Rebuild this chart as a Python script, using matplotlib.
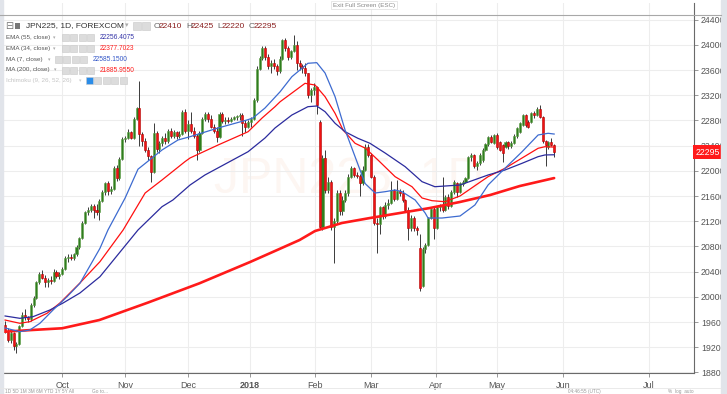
import matplotlib
matplotlib.use('Agg')
import matplotlib.pyplot as plt
from matplotlib.patches import Rectangle
import numpy as np

plt.rcParams['font.family'] = ['Liberation Sans', 'DejaVu Sans']

# daily bars, JPN225 CFD, 4 Sep 2017 .. 30 May 2018 (one value per trading day)
opens = [19560, 19440, 19320, 19430, 19220, 19250, 19540, 19720, 19680, 19650,
         19870, 19990, 20230, 20360, 20300, 20240, 20270, 20260, 20400, 20330,
         20370, 20450, 20620, 20640, 20620, 20680, 20790, 20930, 21180, 21340,
         21380, 21450, 21380, 21340, 21530, 21660, 21800, 21680, 21720, 22040,
         21880, 22190, 22510, 22530, 22620, 22530, 22830, 23000, 22580, 22470,
         22330, 22230, 21990, 22600, 22350, 22440, 22520, 22470, 22630, 22560,
         22620, 22560, 22590, 22930, 22640, 22750, 22640, 22560, 22330, 22600,
         22820, 22900, 22830, 22700, 22640, 22540, 22900, 22790, 22800, 22790,
         22830, 22850, 22870, 22880, 22760, 22700, 22780, 22820, 23120, 23620,
         23790, 23950, 23800, 23660, 23720, 23660, 23580, 23780, 24070, 23950,
         23800, 23900, 24000, 23710, 23660, 23640, 23550, 23200, 23290, 23330,
         22780, 21110, 22200, 21700, 21820, 21110, 21200, 21650, 21360, 21540,
         21650, 21900, 22040, 21940, 21920, 21800, 22020, 22380, 22260, 21910,
         21170, 21150, 21420, 21280, 21460, 21490, 21700, 21560, 21680, 21650,
         21540, 21380, 21090, 21260, 21100, 20780, 20170, 20760, 20820, 21250,
         21390, 21100, 21420, 21460, 21380, 21590, 21440, 21660, 21800, 21670,
         21790, 21830, 21880, 22220, 22250, 22070, 22130, 22170, 22330, 22420,
         22540, 22440, 22570, 22460, 22410, 22380, 22460, 22390, 22450, 22560,
         22620, 22730, 22880, 22780, 22780, 22920, 22880, 22990, 22860, 22470,
         22380, 22460, 22410]
highs = [19620, 19500, 19460, 19450, 19280, 19560, 19760, 19800, 19700, 19900,
         20010, 20250, 20400, 20420, 20340, 20300, 20330, 20440, 20430, 20390,
         20480, 20650, 20680, 20680, 20700, 20820, 20950, 21200, 21360, 21420,
         21470, 21480, 21480, 21560, 21700, 21830, 21840, 21760, 22080, 22100,
         22220, 22540, 22560, 22660, 22640, 22860, 23020, 23420, 22620, 22520,
         22380, 22260, 22760, 22640, 22480, 22560, 22600, 22660, 22680, 22650,
         22640, 22640, 22960, 22980, 22800, 22940, 22700, 22580, 22640, 22860,
         22930, 22940, 22880, 22740, 22700, 22940, 22930, 22850, 22850, 22860,
         22870, 22880, 22920, 22920, 22800, 22800, 22860, 23160, 23660, 23820,
         23980, 23990, 23850, 23760, 23780, 23700, 23820, 24100, 24110, 23980,
         23920, 24160, 24060, 23760, 23700, 23720, 23560, 23320, 23400, 23340,
         22800, 22260, 22330, 21900, 21850, 21250, 21700, 21700, 21600, 21700,
         21950, 22080, 22060, 21980, 21950, 22080, 22420, 22420, 22280, 21930,
         21260, 21450, 21440, 21500, 21560, 21840, 21720, 21850, 21720, 21690,
         21560, 21420, 21300, 21290, 21120, 21000, 20790, 20860, 21270, 21420,
         21420, 21450, 21480, 21900, 21620, 21640, 21700, 21860, 21830, 21830,
         21860, 21900, 22240, 22290, 22270, 22160, 22280, 22360, 22450, 22560,
         22570, 22590, 22600, 22480, 22420, 22480, 22480, 22470, 22580, 22700,
         22780, 22900, 22900, 22810, 22940, 22950, 23010, 23040, 22870, 22490,
         22480, 22520, 22425]
lows = [19420, 19280, 19270, 19150, 19110, 19240, 19520, 19640, 19600, 19620,
        19840, 19970, 20200, 20280, 20150, 20150, 20200, 20240, 20300, 20290,
        20350, 20430, 20560, 20580, 20590, 20650, 20760, 20920, 21150, 21300,
        21350, 21250, 21300, 21220, 21500, 21620, 21620, 21640, 21700, 21840,
        21860, 22170, 22460, 22500, 22500, 22510, 22800, 22400, 22400, 22300,
        22180, 21830, 21960, 22300, 22280, 22400, 22420, 22440, 22520, 22530,
        22500, 22520, 22570, 22600, 22500, 22600, 22520, 22170, 22300, 22580,
        22790, 22780, 22680, 22600, 22460, 22520, 22760, 22740, 22760, 22770,
        22800, 22810, 22800, 22560, 22620, 22680, 22700, 22800, 23100, 23600,
        23760, 23760, 23620, 23560, 23620, 23520, 23560, 23760, 23900, 23760,
        23780, 23880, 23600, 23600, 23560, 23500, 23160, 23100, 23200, 22900,
        21080, 21060, 21650, 21650, 21060, 20540, 21150, 21300, 21300, 21500,
        21600, 21880, 21900, 21880, 21600, 21780, 22000, 22220, 21880, 21140,
        20700, 21000, 21230, 21250, 21400, 21470, 21520, 21540, 21600, 21500,
        21340, 20900, 21050, 21050, 20980, 20100, 20150, 20700, 20800, 21230,
        20920, 21080, 21360, 21350, 21360, 21400, 21420, 21640, 21590, 21650,
        21760, 21800, 21870, 22160, 22040, 22020, 22100, 22140, 22310, 22400,
        22440, 22420, 22350, 22310, 22140, 22360, 22350, 22370, 22430, 22530,
        22600, 22710, 22700, 22680, 22760, 22840, 22870, 22840, 22450, 22080,
        22340, 22390, 22220]
closes = [19440, 19320, 19430, 19220, 19250, 19540, 19720, 19680, 19650, 19870,
          19990, 20230, 20360, 20300, 20240, 20270, 20260, 20400, 20330, 20370,
          20450, 20620, 20640, 20620, 20680, 20790, 20930, 21180, 21340, 21380,
          21450, 21380, 21340, 21530, 21660, 21800, 21680, 21720, 22040, 21880,
          22190, 22510, 22530, 22620, 22530, 22830, 23000, 22580, 22470, 22330,
          22230, 21990, 22600, 22350, 22440, 22520, 22470, 22630, 22560, 22620,
          22560, 22590, 22930, 22640, 22750, 22640, 22560, 22330, 22600, 22820,
          22900, 22830, 22700, 22640, 22540, 22900, 22790, 22800, 22790, 22830,
          22850, 22870, 22880, 22760, 22700, 22780, 22820, 23120, 23620, 23790,
          23950, 23800, 23660, 23720, 23660, 23580, 23780, 24070, 23950, 23800,
          23900, 24000, 23710, 23660, 23640, 23550, 23200, 23290, 23330, 23040,
          21110, 22200, 21700, 21820, 21110, 21200, 21650, 21360, 21540, 21650,
          21900, 22040, 21940, 21920, 21800, 22020, 22380, 22260, 21910, 21170,
          21150, 21420, 21280, 21460, 21490, 21700, 21560, 21680, 21650, 21540,
          21380, 21090, 21260, 21100, 21060, 20140, 20760, 20820, 21250, 21390,
          21100, 21420, 21460, 21380, 21590, 21440, 21660, 21830, 21670, 21800,
          21830, 21880, 22220, 22250, 22070, 22130, 22250, 22330, 22430, 22540,
          22460, 22570, 22380, 22330, 22280, 22460, 22390, 22450, 22560, 22680,
          22760, 22880, 22730, 22700, 22920, 22880, 22990, 22860, 22470, 22410,
          22460, 22410, 22295]

# indicator lines: bar number -> value
ma7_bar = [0, 5.2, 8.7, 12.2, 16.8, 21.7, 26.2, 33.2, 36, 42, 46.5, 54.9, 60.5,
           64.7, 74.5, 84.6, 86.7, 90.9, 96.2, 100.3, 105.9, 109, 111.9, 115.4,
           118.9, 122.4, 125.9, 129.4, 132.9, 136.4, 138.8, 143.4, 146.9, 147.9,
           152.8, 159.1, 164.3, 168.9, 174.8, 180.8, 186.4, 189.9, 192]
ma7_val = [19506, 19448, 19475, 19581, 19792, 20003, 20216, 20771, 21062, 21570,
           22027, 22332, 22491, 22543, 22681, 22808, 22840, 22998, 23257, 23495,
           23708, 23718, 23554, 23178, 22649, 22225, 21800, 21649, 21670, 21697,
           21670, 21538, 21332, 21252, 21252, 21284, 21459, 21776, 22041, 22305,
           22570, 22597, 22585]
ema34_bar = [0, 5.2, 8.7, 14.7, 19.2, 26.2, 33.2, 41.3, 49, 54.9, 62.9, 64.7,
             74.5, 85, 89.9, 94.4, 96.2, 104.9, 108.4, 111.9, 115.4, 118.2, 122.4,
             126, 130.4, 136.4, 142.3, 145.8, 149.3, 153.8, 159.1, 168.9, 174.8,
             180.8, 186.4, 188.8, 192]
ema34_val = [19633, 19581, 19607, 19740, 19903, 20221, 20559, 21062, 21649, 21856,
             22146, 22205, 22411, 22622, 22840, 23019, 23098, 23390, 23363, 23178,
             22914, 22649, 22438, 22360, 22173, 21908, 21749, 21570, 21527, 21511,
             21602, 21908, 22041, 22205, 22359, 22384, 22378]
ema55_bar = [0, 5.2, 9.8, 15.7, 20.3, 26.2, 33.2, 46.5, 54.9, 58.7, 64.7, 69.9,
             85, 90.9, 94.4, 100.3, 105.9, 109, 111.9, 115.4, 118.9, 123.4, 127.6,
             132.9, 139.9, 145.8, 150.3, 159.1, 168.9, 174.8, 180.8, 186.4, 188.8,
             192]
ema55_val = [19697, 19660, 19686, 19792, 19903, 20062, 20321, 21062, 21432, 21538,
             21776, 21935, 22305, 22522, 22681, 22887, 23019, 23030, 22940, 22756,
             22622, 22517, 22438, 22284, 22067, 21829, 21749, 21776, 21935, 22014,
             22121, 22226, 22253, 22256]
ma200_bar = [0, 10, 20, 33, 50, 68, 85.7, 94.4, 103, 108.4, 117.8, 127.6, 138,
             148.6, 159, 169.6, 180, 192]
ma200_val = [19448, 19476, 19502, 19633, 19910, 20216, 20554, 20729, 20903, 21046,
             21173, 21252, 21331, 21411, 21506, 21617, 21760, 21886]

month_labels = ['Oct', 'Nov', 'Dec', '2018', 'Feb', 'Mar', 'Apr', 'May', 'Jun', 'Jul']
month_bar = [20, 42, 64, 85.5, 108.4, 128, 150.7, 172, 195, 225]
price_ticks = list(range(18800, 24401, 400))
last_price = 22295

W, H = 727, 394
fig = plt.figure(figsize=(W / 100, H / 100), dpi=100)


def fx(x):
    return x / W


def fy(y):
    return 1 - y / H


# frame around the chart
fig.patches.append(Rectangle((0, 0), fx(3), 1, transform=fig.transFigure, color='#e1e4ea', zorder=0))
fig.patches.append(Rectangle((fx(721), 0), 1, 1, transform=fig.transFigure, color='#e1e4ea', zorder=0))

ax = fig.add_axes([fx(3), fy(373), fx(694) - fx(3), fy(3) - fy(373)])

o = np.array(opens)
h = np.array(highs)
lo = np.array(lows)
c = np.array(closes)
idx = np.arange(len(o))
up = c >= o
body_lo = np.minimum(o, c)
body_h = np.maximum(np.abs(c - o), 10)

ax.vlines(idx, lo, h, color='#3a3a3a', lw=0.7, zorder=2)
ax.bar(idx[up], body_h[up], bottom=body_lo[up], width=0.72, color='#2f7d1f',
       edgecolor='#5e9e46', linewidth=0.4, zorder=3)
ax.bar(idx[~up], body_h[~up], bottom=body_lo[~up], width=0.72, color='#f01212',
       edgecolor='#b00000', linewidth=0.4, zorder=3)

ax.plot(ma200_bar, ma200_val, color='#ff1a1a', lw=1.9, solid_capstyle='round', zorder=4)
ax.plot(ema34_bar, ema34_val, color='#ff1010', lw=0.9, zorder=4)
ax.plot(ema55_bar, ema55_val, color='#2b2b9e', lw=0.9, zorder=4)
ax.plot(ma7_bar, ma7_val, color='#3d6bd0', lw=0.9, zorder=4)

ax.set_xlim(-0.7, 240.9)
ax.set_ylim(18792, 24665)
ax.set_yticks(price_ticks)
ax.yaxis.tick_right()
ax.set_xticks(month_bar)
ax.set_xticklabels(month_labels)
for lab in ax.get_xticklabels():
    if lab.get_text() == '2018':
        lab.set_fontweight('bold')
ax.tick_params(axis='y', labelsize=6.3, labelcolor='#555555', color='#888888',
               length=3, width=0.6, pad=2)
ax.tick_params(axis='x', labelsize=6.5, labelcolor='#555555', color='#888888',
               length=3, width=0.6, pad=2.5)
ax.grid(color='#ededed', lw=0.8)
ax.set_axisbelow(True)
for s in ['top', 'left']:
    ax.spines[s].set_visible(False)
for s in ['right', 'bottom']:
    ax.spines[s].set_color('#6a6a6a')
    ax.spines[s].set_linewidth(0.8)

# watermark
ax.text(0.5, 0.52, 'JPN225, 1D', transform=ax.transAxes, ha='center', va='center',
        fontsize=36, color='#fdf6f2', zorder=0)

# last price tag (covers the 22400 tick label, as in the terminal)
ax.text(1.002, last_price, str(last_price), transform=ax.get_yaxis_transform(),
        ha='left', va='center', fontsize=6.3, color='white', zorder=6, clip_on=False,
        bbox=dict(boxstyle='square,pad=0.3', fc='#ff1a1a', ec='none'))

# top toolbar line and exit button
fig.add_artist(plt.Line2D([0, fx(721)], [fy(15), fy(15)], color='#a8a8a8', lw=0.8))
fig.text(fx(364), fy(5), 'Exit Full Screen (ESC)', ha='center', va='center',
         fontsize=4.5, color='#888888',
         bbox=dict(boxstyle='square,pad=0.25', fc='white', ec='#dddddd', lw=0.5))


def icon(x, y, w=7, col='#dcdcdc'):
    fig.patches.append(Rectangle((fx(x), fy(y + w / 2)), w / W, w / H,
                                 transform=fig.transFigure, fc=col, ec='#c8c8c8', lw=0.4))


# legend header
fig.text(fx(5), fy(26), '⊟', fontsize=7, color='#777777', va='center')
fig.patches.append(Rectangle((fx(15), fy(29)), 5 / W, 6 / H, transform=fig.transFigure,
                             fc='#777777', ec='none'))
fig.text(fx(26), fy(26), 'JPN225, 1D, FOREXCOM', fontsize=6.0, color='#333333', va='center')
fig.text(fx(125), fy(26), '▾', fontsize=5, color='#aaaaaa', va='center')
icon(133, 26, 8)
icon(142, 26, 8)
ohlc = [('O', 22410, 154), ('H', 22425, 186), ('L', 22220, 217), ('C', 22295, 249)]
for letter, val, xp in ohlc:
    fig.text(fx(xp), fy(26), letter, fontsize=6.0, color='#666666', va='center')
    fig.text(fx(xp + 5), fy(26), str(val), fontsize=6.0, color='#8b2020', va='center')

rows = [('EMA (55, close)', '22256.4075', '#3535a8', 37.7, 53, 62, 100),
        ('EMA (34, close)', '22377.7023', '#ff2020', 48.3, 53, 62, 100),
        ('MA (7, close)', '22585.1500', '#3558c8', 59.3, 48, 55, 93),
        ('MA (200, close)', '21885.9550', '#ff2020', 70, 54, 62, 100)]
for label, val, col, yp, xa, xb, xv in rows:
    fig.text(fx(6), fy(yp), label, fontsize=4.5, color='#555555', va='center')
    fig.text(fx(xa), fy(yp), '▾', fontsize=3.5, color='#aaaaaa', va='center')
    for k in range(4):
        icon(xb + k * 8.4, yp, 7)
    fig.text(fx(xv), fy(yp), val, fontsize=4.8, color=col, va='center')

fig.text(fx(6), fy(80.7), 'Ichimoku (9, 26, 52, 26)', fontsize=4.5, color='#c4c4c4', va='center')
fig.text(fx(79), fy(80.7), '▾', fontsize=3.5, color='#cccccc', va='center')
icon(86, 80.7, 7, '#2a8ce8')
for k in range(1, 5):
    icon(86 + k * 8.4, 80.7, 7)

# bottom toolbar
fig.add_artist(plt.Line2D([0, fx(721)], [fy(387.5), fy(387.5)], color='#e6e6e6', lw=0.6))
fig.text(fx(5), fy(391.5), '1D 5D 1M 3M 6M YTD 1Y 5Y All', fontsize=3.4,
         color='#999999', va='center')
fig.text(fx(92), fy(391.5), 'Go to...', fontsize=3.4, color='#999999', va='center')
fig.text(fx(568), fy(391.5), '04:46:55 (UTC)', fontsize=3.4, color='#999999', va='center')
fig.text(fx(668), fy(391.5), '%  log  auto', fontsize=3.4, color='#999999', va='center')

fig.savefig('out.png', dpi=100)
